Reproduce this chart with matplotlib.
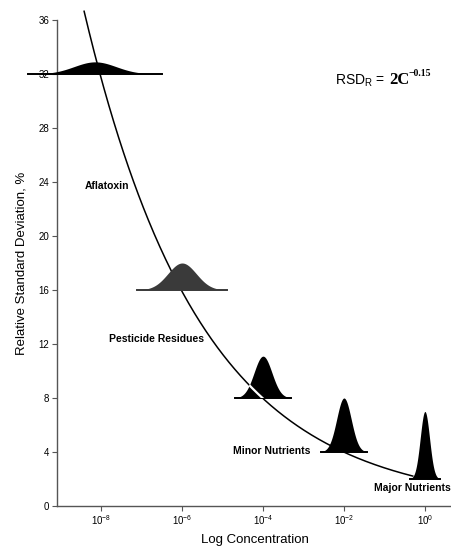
import numpy as np
import matplotlib.pyplot as plt

plt.rcParams['font.family'] = ['Liberation Sans', 'DejaVu Sans']

# Horwitz curve: RSD_R = 2 C^-0.15
coef = 2.0
expo = -0.15
logc_start = -8.42
logc_end = -0.3

# peaks (log10 concentration, baseline RSD, peak height above baseline, spread in decades)
peak_logc = [-8.15, -6.0, -4.0, -2.0, 0.0]
peak_base = [32.0, 16.0, 8.0, 4.0, 2.0]
peak_height = [0.9, 2.0, 3.1, 4.0, 5.0]
peak_sigma = [0.52, 0.35, 0.22, 0.18, 0.115]
peak_color = ['black', '#3a3a3a', 'black', 'black', 'black']

labels = ['Aflatoxin', 'Pesticide Residues', 'Minor Nutrients', 'Major Nutrients']
label_logc = [-7.85, -6.62, -3.78, -0.3]
label_y = [23.7, 12.4, 4.1, 1.3]

xtick_exp = [-8, -6, -4, -2, 0]
yticks = [0, 4, 8, 12, 16, 20, 24, 28, 32, 36]

W, H = 452, 546
fig = plt.figure(figsize=(W / 100, H / 100), dpi=100)
ax = fig.add_axes([57 / W, 1 - 506 / H, 1 - 57 / W, 486 / H])

lc = np.linspace(logc_start, logc_end, 400)
rsd = coef * (10 ** lc) ** expo
ax.plot(10 ** lc, rsd, color='black', lw=1.1, zorder=3)

for i in range(len(peak_logc)):
    xs = np.linspace(peak_logc[i] - 3.2 * peak_sigma[i], peak_logc[i] + 3.2 * peak_sigma[i], 200)
    ys = peak_base[i] + peak_height[i] * np.exp(-0.5 * ((xs - peak_logc[i]) / peak_sigma[i]) ** 2)
    poly = ax.fill_between(10 ** xs, peak_base[i], ys, color=peak_color[i], lw=0, zorder=4)
    ax.plot(10 ** xs, np.full_like(xs, peak_base[i]), color=peak_color[i], lw=1.4, zorder=4)
    if i == 2:
        # curve shows white where it crosses the black peak
        wl, = ax.plot(10 ** lc, rsd, color='white', lw=1.6, zorder=5)
        wl.set_clip_path(poly.get_paths()[0], poly.get_transform())

for t, x, y in zip(labels, label_logc, label_y):
    ax.text(10 ** x, y, t, ha='center', va='center', fontsize=7.5, fontweight='bold', zorder=6)

# equation
fig.text(335 / W, 1 - 81 / H, r'RSD$_\mathregular{R}$ =', fontsize=10, va='center', ha='left')
fig.text(389 / W, 1 - 80 / H, '2C', fontsize=12, fontweight='bold', va='center', ha='left',
         family='Liberation Serif')
fig.text(409 / W, 1 - 74 / H, '\u22120.15', fontsize=7, fontweight='bold', va='center', ha='left',
         family='Liberation Serif')

ax.set_xscale('log')
ax.set_xlim(10 ** -9.09, 10 ** 0.67)
ax.set_ylim(0, 36)
ax.set_xticks([10.0 ** e for e in xtick_exp])
ax.set_xticklabels([r'10$^{\mathregular{%d}}$' % e for e in xtick_exp])
ax.minorticks_off()
ax.set_yticks(yticks)

for s in ['top', 'right']:
    ax.spines[s].set_visible(False)
for s in ['left', 'bottom']:
    ax.spines[s].set_linewidth(1.0)
    ax.spines[s].set_color('#555555')
ax.tick_params(axis='both', labelsize=7, length=3.5, width=0.8, color='#555555', pad=2)
ax.set_xlabel('Log Concentration', fontsize=9.5, labelpad=5)
ax.set_ylabel('Relative Standard Deviation, %', fontsize=9.5, labelpad=8)
ax.patch.set_visible(False)
for art in ax.collections:
    art.set_clip_on(False)
for ln in ax.lines:
    if ln.get_clip_path() is None:
        ln.set_clip_on(False)

fig.savefig('out.png', dpi=100)
